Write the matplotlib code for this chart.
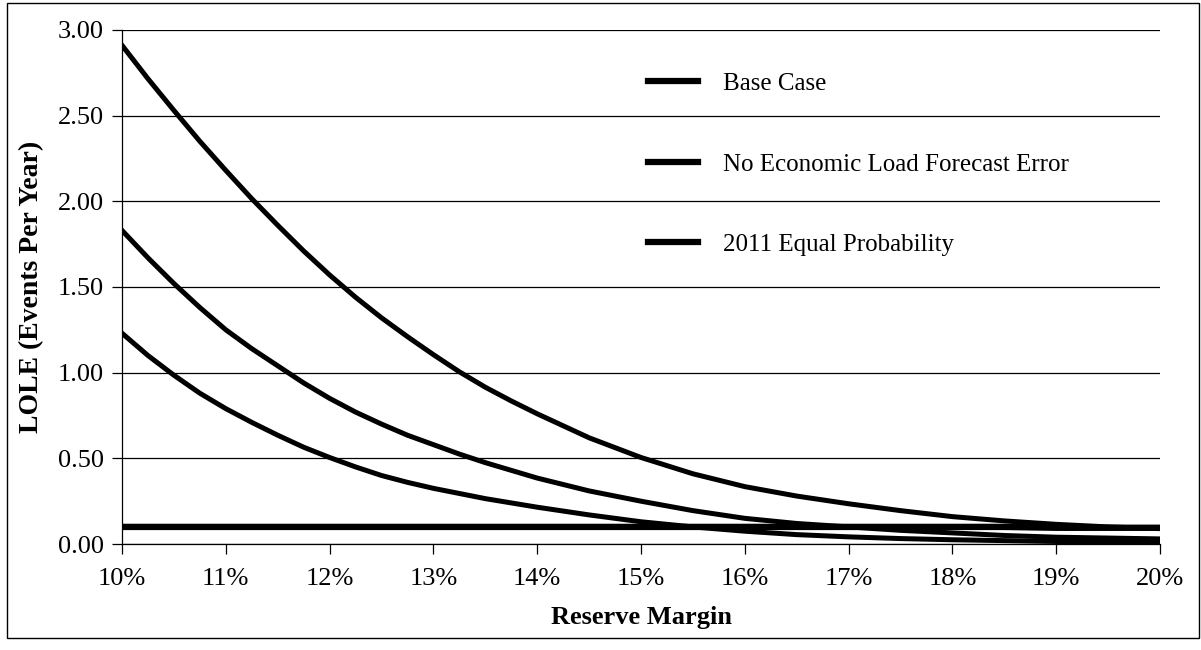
import numpy as np
import matplotlib
matplotlib.use("Agg")
import matplotlib.pyplot as plt
from matplotlib.patches import Rectangle
from matplotlib.ticker import FuncFormatter

plt.rcParams['font.family'] = ['Liberation Serif', 'DejaVu Serif']

# reserve margin (%) and LOLE (events per year)
margin = [10.0, 10.25, 10.5, 10.75, 11.0, 11.25, 11.5, 11.75, 12.0, 12.25, 12.5,
          12.75, 13.0, 13.25, 13.5, 13.75, 14.0, 14.5, 15.0, 15.5, 16.0, 16.5,
          17.0, 17.5, 18.0, 18.5, 19.0, 19.5, 20.0]
base_case = [2.91, 2.715, 2.53, 2.35, 2.18, 2.015, 1.86, 1.71, 1.57, 1.44, 1.32,
             1.21, 1.105, 1.005, 0.915, 0.835, 0.76, 0.62, 0.505, 0.41, 0.335, 0.28,
             0.235, 0.195, 0.16, 0.135, 0.115, 0.10, 0.09]
no_econ_err = [1.83, 1.67, 1.52, 1.38, 1.25, 1.14, 1.04, 0.94, 0.85, 0.77, 0.70,
               0.635, 0.58, 0.525, 0.475, 0.43, 0.385, 0.31, 0.25, 0.195, 0.15, 0.12,
               0.10, 0.08, 0.065, 0.05, 0.04, 0.035, 0.03]
equal_prob = [1.23, 1.10, 0.985, 0.88, 0.79, 0.71, 0.635, 0.565, 0.505, 0.45, 0.40,
              0.36, 0.325, 0.295, 0.265, 0.24, 0.215, 0.17, 0.13, 0.10, 0.075, 0.055,
              0.042, 0.032, 0.025, 0.02, 0.015, 0.012, 0.01]
target = [0.10, 0.10, 0.10, 0.10, 0.10, 0.10, 0.10, 0.10, 0.10, 0.10, 0.10,
          0.10, 0.10, 0.10, 0.10, 0.10, 0.10, 0.10, 0.10, 0.10, 0.10, 0.10,
          0.10, 0.10, 0.10, 0.10, 0.095, 0.095, 0.095]
labels = ["Base Case", "No Economic Load Forecast Error", "2011 Equal Probability"]

fig = plt.figure(figsize=(12.01, 6.5), dpi=100)
ax = fig.add_axes([0.1016, 0.163, 0.8643, 0.791])

# border round the whole figure
fig.patches.append(Rectangle((0.006, 0.018), 0.992, 0.977, transform=fig.transFigure,
                             fill=False, edgecolor='black', linewidth=1.0))

lw = 3.6
ax.plot(margin, base_case, color='black', lw=lw, label=labels[0])
ax.plot(margin, no_econ_err, color='black', lw=lw, label=labels[1])
ax.plot(margin, equal_prob, color='black', lw=lw, label=labels[2])
ax.plot(margin, target, color='black', lw=4.6)

ax.set_xlim(10, 20)
ax.set_ylim(0, 3.0)
ax.set_xticks(np.arange(10, 21, 1))
ax.set_yticks(np.arange(0, 3.01, 0.5))
ax.xaxis.set_major_formatter(FuncFormatter(lambda v, p: "%d%%" % round(v)))
ax.yaxis.set_major_formatter(FuncFormatter(lambda v, p: "%.2f" % v))
ax.grid(axis='y', color='black', linewidth=0.9)
ax.set_axisbelow(True)
for s in ['top', 'right']:
    ax.spines[s].set_visible(False)
for s in ['left', 'bottom']:
    ax.spines[s].set_linewidth(0.9)
ax.tick_params(axis='both', direction='out', length=7, width=0.9, labelsize=19)
ax.tick_params(axis='y', pad=6)
ax.tick_params(axis='x', pad=10)

ax.set_xlabel("Reserve Margin", fontsize=19, fontweight='bold', labelpad=12)
ax.set_ylabel("LOLE (Events Per Year)", fontsize=20, fontweight='bold', labelpad=10)

leg = ax.legend(loc='upper left', bbox_to_anchor=(0.507, 0.917), frameon=False,
                fontsize=18, handlelength=2.0, handletextpad=1.0, labelspacing=2.32,
                borderaxespad=0, borderpad=0)
for h in leg.get_lines():
    h.set_linewidth(4.5)

fig.savefig("out.png", dpi=100)
